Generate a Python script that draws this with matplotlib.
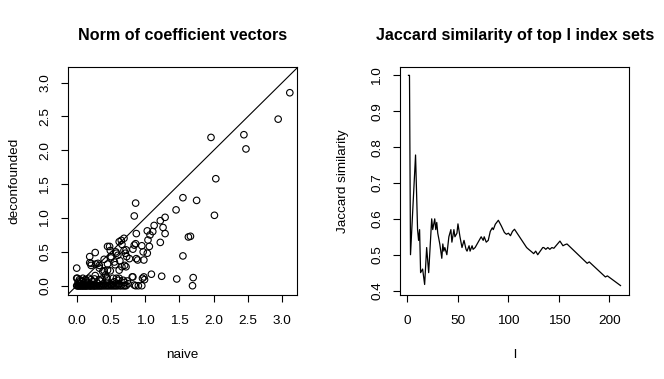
import numpy as np
import matplotlib
matplotlib.use("Agg")
import matplotlib.pyplot as plt

plt.rcParams['font.family'] = ['Liberation Sans', 'DejaVu Sans']

# --- left panel: norms of coefficient vectors ---
naive = [3.11, 2.94, 2.44, 2.47, 1.96, 2.03, 2.01, 1.55, 1.75, 1.45, 1.63, 1.66,
         1.55, 1.69, 1.70, 1.46, 1.24, 1.09, 0.98, 0.99, 0.95,
         1.29, 1.22, 1.13, 1.26, 1.29, 1.22, 1.03, 1.11, 1.07, 1.04, 0.95, 1.06,
         0.97, 1.03, 0.98,
         0.86, 0.84, 0.87, 0.86, 0.82, 0.87, 0.81, 0.86,
         0.69, 0.65, 0.66, 0.69, 0.71, 0.70, 0.66, 0.73, 0.63, 0.60, 0.58, 0.45,
         0.49, 0.50, 0.56, 0.45, 0.40, 0.27, 0.19, 0.19, 0.21, 0.28, 0.33, 0.40,
         0.42, 0.49, 0.44, 0.58, 0.61, 0.68, 0.74, 0.27, 0.00, 0.00, 0.06, 0.18,
         0.21, 0.14, 0.37, 0.53, 0.62, 0.48,
         0.21, 0.31, 0.33, 0.50, 0.57, 0.55, 0.62, 0.45, 0.38, 0.72, 0.84, 0.77,
         0.72, 0.89, 0.82, 0.62, 0.53, 0.44, 0.33, 0.96, 0.84, 0.90, 0.04, 0.09,
         0.13, 0.01,
         # points stacked near zero
         0.00, 0.01, 0.02, 0.03, 0.04, 0.05, 0.06, 0.07, 0.08, 0.09, 0.10, 0.11,
         0.12, 0.13, 0.14, 0.15, 0.16, 0.18, 0.19, 0.20, 0.21, 0.22, 0.24, 0.25,
         0.26, 0.27, 0.29, 0.30, 0.32, 0.33, 0.35, 0.36, 0.38, 0.40, 0.42, 0.44,
         0.46, 0.48, 0.50, 0.52, 0.54, 0.56, 0.58, 0.60, 0.63, 0.65, 0.68, 0.70,
         0.72,
         0.02, 0.05, 0.08, 0.10, 0.13, 0.16, 0.20, 0.23, 0.26, 0.30, 0.34, 0.39,
         0.45, 0.50, 0.55, 0.62, 0.70, 0.75]
deconfounded = [2.85, 2.46, 2.23, 2.02, 2.19, 1.58, 1.04, 1.30, 1.26, 1.12, 0.72, 0.73,
                0.44, 0.00, 0.12, 0.10, 0.14, 0.17, 0.13, 0.09, 0.00,
                1.01, 0.96, 0.89, 0.86, 0.77, 0.64, 0.81, 0.80, 0.75, 0.675, 0.59, 0.58,
                0.50, 0.48, 0.38,
                1.22, 1.03, 0.77, 0.62, 0.54, 0.40, 0.13, 0.00,
                0.70, 0.67, 0.61, 0.52, 0.48, 0.30, 0.28, 0.43, 0.37, 0.45, 0.48, 0.58,
                0.52, 0.41, 0.31, 0.32, 0.39, 0.49, 0.43, 0.34, 0.30, 0.32, 0.30, 0.22,
                0.16, 0.22, 0.12, 0.11, 0.08, 0.08, 0.07, 0.15, 0.26, 0.11, 0.08, 0.11,
                0.09, 0.07, 0.10, 0.04, 0.65, 0.58,
                0.33, 0.33, 0.26, 0.43, 0.50, 0.35, 0.23, 0.23, 0.21, 0.53, 0.60, 0.40,
                0.28, 0.38, 0.13, 0.11, 0.11, 0.10, 0.09, 0.11, 0.01, 0.00, 0.09, 0.11,
                0.09, 0.11,
                0.0, 0.0, 0.0, 0.0, 0.0, 0.0, 0.0, 0.0, 0.0, 0.0, 0.0, 0.0,
                0.0, 0.0, 0.0, 0.0, 0.0, 0.0, 0.0, 0.0, 0.0, 0.0, 0.0, 0.0,
                0.0, 0.0, 0.0, 0.0, 0.0, 0.0, 0.0, 0.0, 0.0, 0.0, 0.0, 0.0,
                0.0, 0.0, 0.0, 0.0, 0.0, 0.0, 0.0, 0.0, 0.0, 0.0, 0.0, 0.0,
                0.0,
                0.05, 0.03, 0.06, 0.04, 0.09, 0.05, 0.02, 0.06, 0.10, 0.04, 0.07, 0.03,
                0.05, 0.02, 0.06, 0.03, 0.05, 0.03]

# --- right panel: Jaccard similarity vs l (vertices of the curve) ---
top_l = [1, 2, 3, 8, 10, 11, 12, 13, 15, 17, 19, 21, 24, 25, 27, 28, 29, 30,
         32, 34, 35, 36, 37, 39, 41, 43, 44, 46, 47, 49, 50, 52, 54, 56, 58, 59,
         61, 62, 64, 65, 67, 70, 73, 75, 76, 78, 80, 82, 84, 85, 87, 90, 93, 96,
         98, 100, 102, 104, 106, 118, 120, 123, 125, 127, 129, 134, 135, 137,
         139, 141, 143, 145, 151, 154, 156, 158, 178, 180, 196, 198, 211]
jaccard = [1.0, 1.0, 0.5, 0.778, 0.57, 0.54, 0.57, 0.45, 0.46, 0.417, 0.52, 0.45,
           0.60, 0.57, 0.60, 0.57, 0.59, 0.56, 0.53, 0.49, 0.53, 0.51, 0.52, 0.50,
           0.55, 0.57, 0.535, 0.57, 0.55, 0.56, 0.586, 0.55, 0.52, 0.54, 0.515,
           0.51, 0.525, 0.51, 0.525, 0.515, 0.52, 0.535, 0.55, 0.54, 0.55, 0.535,
           0.54, 0.565, 0.575, 0.57, 0.585, 0.596, 0.58, 0.562, 0.557, 0.56, 0.553,
           0.565, 0.571, 0.52, 0.515, 0.508, 0.503, 0.51, 0.50, 0.52, 0.52, 0.515,
           0.52, 0.515, 0.52, 0.518, 0.538, 0.525, 0.528, 0.53, 0.476, 0.48, 0.438,
           0.441, 0.414]

W, H = 664, 379
FS = 9.7
fig = plt.figure(figsize=(W / 100, H / 100), dpi=100)


def px_axes(x0, x1, y0, y1):
    return fig.add_axes([x0 / W, 1 - y1 / H, (x1 - x0) / W, (y1 - y0) / H])


def style_axes(ax):
    for s in ax.spines.values():
        s.set_linewidth(0.8)
    ax.tick_params(direction='out', length=5, width=0.8, labelsize=FS, pad=9.5)
    ax.tick_params(axis='y', pad=7)
    for lab in ax.get_yticklabels():
        lab.set_rotation(90)
        lab.set_va('center')


ax1 = px_axes(68, 297, 67, 295)
ax1.scatter(naive, deconfounded, s=22, facecolors='none', edgecolors='black',
            linewidths=0.8, zorder=3)
lim = (-0.127, 3.215)
ax1.plot(lim, lim, color='black', lw=0.8)
ax1.set_xlim(lim)
ax1.set_ylim(-0.137, 3.23)
ax1.set_xticks(np.arange(0, 3.01, 0.5))
ax1.set_yticks(np.arange(0, 3.01, 0.5))
ax1.set_xticklabels(['0.0', '0.5', '1.0', '1.5', '2.0', '2.5', '3.0'])
ax1.set_yticklabels(['0.0', '0.5', '1.0', '1.5', '2.0', '2.5', '3.0'])
style_axes(ax1)

ax2 = px_axes(400, 629, 67, 295)
ax2.plot(top_l, jaccard, color='black', lw=0.9)
ax2.set_xlim(-7.4, 219.4)
ax2.set_ylim(0.3877, 1.0233)
ax2.set_xticks([0, 50, 100, 150, 200])
ax2.set_yticks([0.4, 0.5, 0.6, 0.7, 0.8, 0.9, 1.0])
ax2.set_yticklabels(['0.4', '0.5', '0.6', '0.7', '0.8', '0.9', '1.0'])
style_axes(ax2)

# titles and axis labels placed in pixel coordinates
fig.text(182.5 / W, 1 - 40 / H, 'Norm of coefficient vectors', ha='center',
         va='baseline', fontsize=11.6, fontweight='bold')
fig.text(515 / W, 1 - 40 / H, 'Jaccard similarity of top l index sets', ha='center',
         va='baseline', fontsize=11.6, fontweight='bold')
fig.text(182.5 / W, 1 - 358 / H, 'naive', ha='center', va='baseline', fontsize=FS)
fig.text(514.5 / W, 1 - 358 / H, 'l', ha='center', va='baseline', fontsize=FS)
fig.text(14 / W, 1 - 181 / H, 'deconfounded', ha='center', va='center',
         rotation=90, fontsize=FS)
fig.text(343 / W, 1 - 181 / H, 'Jaccard similarity', ha='center', va='center',
         rotation=90, fontsize=FS)

fig.savefig('out.png', dpi=100)
